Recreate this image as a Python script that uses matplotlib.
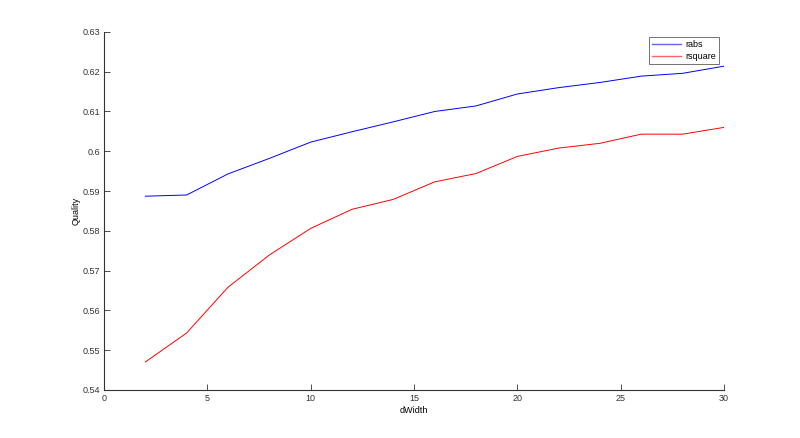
import matplotlib
matplotlib.use("Agg")
import matplotlib.pyplot as plt
from matplotlib.lines import Line2D

dwidth = [2, 4, 6, 8, 10, 12, 14, 16, 18, 20, 22, 24, 26, 28, 30]
rabs = [0.5887, 0.5890, 0.5943, 0.5982, 0.6023, 0.6049, 0.6074, 0.6100, 0.6114,
        0.6144, 0.6160, 0.6173, 0.6189, 0.6196, 0.6214]
rsquare = [0.5470, 0.5543, 0.5658, 0.5739, 0.5806, 0.5854, 0.5879, 0.5923, 0.5944,
           0.5987, 0.6008, 0.6020, 0.6043, 0.6043, 0.6060]
xticks = [0, 5, 10, 15, 20, 25, 30]
yticks = [0.54, 0.55, 0.56, 0.57, 0.58, 0.59, 0.6, 0.61, 0.62, 0.63]
ytick_labels = ["0.54", "0.55", "0.56", "0.57", "0.58", "0.59", "0.6", "0.61", "0.62", "0.63"]

plt.rcParams['font.family'] = ['Liberation Sans', 'DejaVu Sans']
fig = plt.figure(figsize=(8, 4.38), dpi=100)
ax = fig.add_axes([0.13, 0.11, 0.775, 0.817])
ax.plot(dwidth, rabs, color=(0, 0, 1), lw=0.7, label="rabs")
ax.plot(dwidth, rsquare, color=(1, 0, 0), lw=0.7, label="rsquare")
ax.set_xlim(0, 30)
ax.set_ylim(0.54, 0.63)
ax.set_xticks(xticks)
ax.set_yticks(yticks)
ax.set_yticklabels(ytick_labels)
for s in ["top", "right"]:
    ax.spines[s].set_visible(False)
for s in ["left", "bottom"]:
    ax.spines[s].set_color("#333333")
    ax.spines[s].set_linewidth(0.8)
ax.tick_params(direction="in", length=4, width=0.6, colors="#333333", labelsize=6.5, pad=3)
ax.set_xlabel("dWidth", fontsize=6.5, labelpad=2)
ax.set_ylabel("Quality", fontsize=6.5, labelpad=1)
handles = [Line2D([], [], color=(0.4, 0.4, 1), lw=1.0),
           Line2D([], [], color=(1, 0.4, 0.4), lw=1.0)]
leg = ax.legend(handles, ["rabs", "rsquare"], loc="upper right", bbox_to_anchor=(0.992, 0.986),
                borderaxespad=0, fontsize=6.5, frameon=True,
                fancybox=False, edgecolor="#333333", handlelength=3.2, borderpad=0.35,
                labelspacing=0.3, handletextpad=0.5)
leg.get_frame().set_linewidth(0.6)
fig.savefig("out.png", dpi=100)
